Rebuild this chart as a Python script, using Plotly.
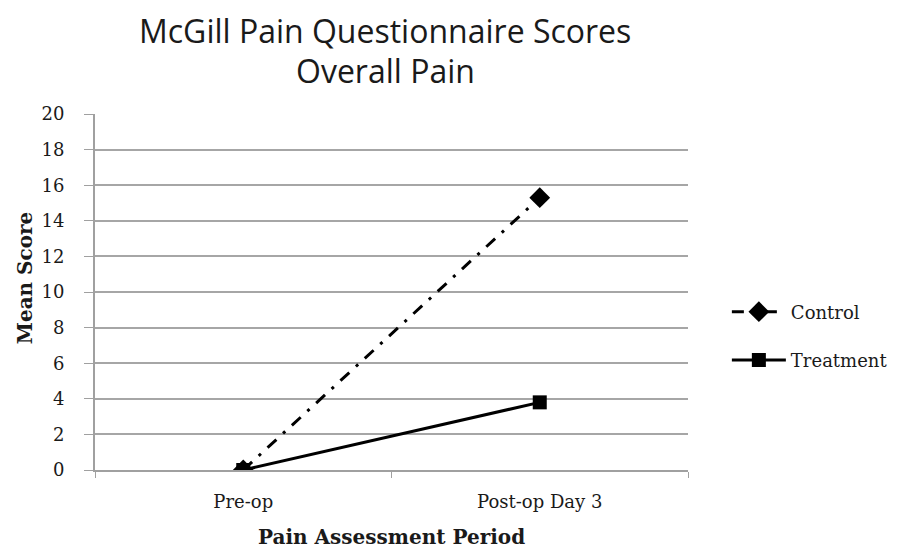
import plotly.graph_objects as go

categories = ["Pre-op", "Post-op Day 3"]
control = [0.0, 15.3]
treatment = [0.0, 3.8]
y_ticks = [0, 2, 4, 6, 8, 10, 12, 14, 16, 18, 20]

serif = "DejaVu Serif, Liberation Serif, serif"
sans = "Open Sans, Liberation Sans, sans-serif"

# page body has an 8px margin; size the figure to fit the viewport
W, H = 897, 546
L, R, T, B = 87, 215, 106, 84
PW, PH = W - L - R, H - T - B


def px(xf):
    return (xf - L) / PW


def py(yf):
    return (H - B - yf) / PH


fig = go.Figure()
fig.add_trace(go.Scatter(
    x=categories, y=control, name="Control", mode="lines+markers",
    legendgroup="c",
    line=dict(color="black", width=3, dash="12px,9px,3px,9px"),
    marker=dict(symbol="diamond", size=16, color="black"),
))
fig.add_trace(go.Scatter(
    x=categories, y=treatment, name="Treatment", mode="lines+markers",
    legendgroup="t",
    line=dict(color="black", width=3),
    marker=dict(symbol="square", size=14, color="black"),
))

annotations = [
    dict(text="McGill Pain Questionnaire Scores", x=px(378), y=py(22),
         font=dict(family=sans, size=32, color="#1a1a1a")),
    dict(text="Overall Pain", x=px(378), y=py(63),
         font=dict(family=sans, size=32, color="#1a1a1a")),
    dict(text="<b>Pain Assessment Period</b>", x=px(384), y=py(529),
         font=dict(family=serif, size=20, color="#1a1a1a")),
    dict(text="<b>Mean Score</b>", x=px(17), y=py(270), textangle=-90,
         font=dict(family=serif, size=20, color="#1a1a1a")),
]
for a in annotations:
    a.update(xref="paper", yref="paper", showarrow=False,
             xanchor="center", yanchor="middle")

fig.update_layout(
    width=W, height=H,
    paper_bgcolor="white", plot_bgcolor="white",
    margin=dict(l=L, r=R, t=T, b=B),
    annotations=annotations,
    showlegend=True,
    legend=dict(
        x=px(721), xanchor="left", y=py(328), yanchor="middle",
        font=dict(family=serif, size=18, color="#1a1a1a"),
        itemwidth=54, tracegroupgap=22, bgcolor="rgba(0,0,0,0)",
    ),
    xaxis=dict(
        type="category", range=[-0.5, 1.5],
        showgrid=False, showline=True, linecolor="#a0a0a0", linewidth=2,
        ticks="outside", tickson="boundaries", ticklen=6, tickcolor="#a0a0a0",
        ticklabelstandoff=14,
        tickfont=dict(family=serif, size=18, color="#1a1a1a"),
        automargin=False,
    ),
    yaxis=dict(
        range=[0, 20], tickvals=y_ticks,
        showgrid=True, gridcolor="#a6a6a6", gridwidth=2,
        showline=True, linecolor="#a0a0a0", linewidth=2,
        ticks="outside", ticklen=9, tickcolor="#a0a0a0",
        ticklabelstandoff=16,
        zeroline=False,
        tickfont=dict(family=serif, size=18, color="#1a1a1a"),
        automargin=False,
    ),
)

fig.write_html("out.html")
